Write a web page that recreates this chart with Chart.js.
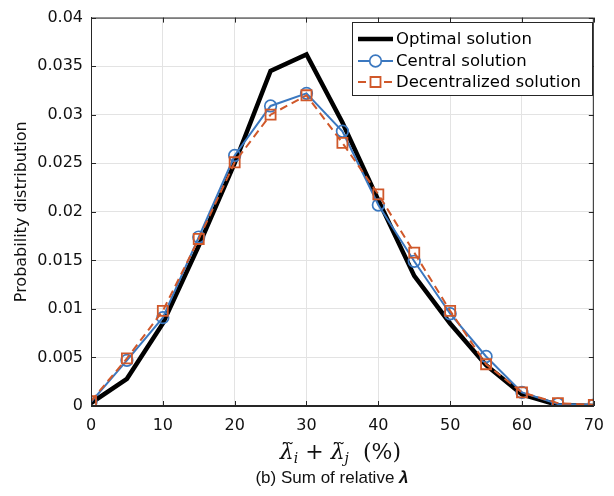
<!DOCTYPE html>
<html>
<head>
<meta charset="utf-8">
<script src="https://cdn.jsdelivr.net/npm/chart.js@4/dist/chart.umd.min.js"></script>
<style>
  html, body { margin: 0; padding: 0; background: #fff; }
  #wrap { position: relative; width: 614px; height: 496px; }
  #caption {
    position: absolute; left: 0; width: 664px; top: 468px; line-height: 20px;
    text-align: center; font: 17px "Liberation Sans", Arial, sans-serif; color: #111;
  }
</style>
</head>
<body>
<div id="wrap">
  <canvas id="chart" width="614" height="496"></canvas>
  <div id="caption">(b) Sum of relative <b><i>λ</i></b></div>
</div>
<script>
const xValues = [0, 5, 10, 15, 20, 25, 30, 35, 40, 45, 50, 55, 60, 65, 70];
const optimal = [0.0003, 0.0028, 0.0085, 0.0165, 0.0250, 0.0345, 0.0362, 0.0292, 0.0212, 0.0134, 0.0085, 0.0042, 0.0012, 0.0001, 0.0000];
const central = [0.0004, 0.0047, 0.0091, 0.0174, 0.0258, 0.0309, 0.0322, 0.0283, 0.0207, 0.0149, 0.0095, 0.0051, 0.0014, 0.0002, 0.0001];
const decentral = [0.0005, 0.0049, 0.0098, 0.0172, 0.0251, 0.0300, 0.0320, 0.0271, 0.0218, 0.0158, 0.0098, 0.0043, 0.0014, 0.0003, 0.0001];
const seriesNames = ['Optimal solution', 'Central solution', 'Decentralized solution'];
const yTickLabels = ['0', '0.005', '0.01', '0.015', '0.02', '0.025', '0.03', '0.035', '0.04'];
const xTickLabels = ['0', '10', '20', '30', '40', '50', '60', '70'];

const AXIS = '#262626';
const GRID = '#e3e3e3';
const BLUE = '#3b78c0';
const ORANGE = '#d0582a';
const FONT = '"DejaVu Sans", sans-serif';

const toPoints = arr => arr.map((v, i) => ({ x: xValues[i], y: v }));

// box, inward ticks, legend and the math x label
const matlabLook = {
  id: 'matlabLook',
  afterDraw(chart) {
    const ctx = chart.ctx;
    const a = chart.chartArea;
    const xs = chart.scales.x, ys = chart.scales.y;
    ctx.save();
    ctx.strokeStyle = AXIS;
    ctx.lineWidth = 1;
    ctx.strokeRect(a.left + 0.5, a.top + 0.5, a.right - a.left - 1, a.bottom - a.top - 1);
    const tl = 5;
    ctx.beginPath();
    xs.ticks.forEach(t => {
      const px = Math.round(xs.getPixelForValue(t.value)) + 0.5;
      ctx.moveTo(px, a.bottom); ctx.lineTo(px, a.bottom - tl);
      ctx.moveTo(px, a.top); ctx.lineTo(px, a.top + tl);
    });
    ys.ticks.forEach(t => {
      const py = Math.round(ys.getPixelForValue(t.value)) + 0.5;
      ctx.moveTo(a.left, py); ctx.lineTo(a.left + tl, py);
      ctx.moveTo(a.right, py); ctx.lineTo(a.right - tl, py);
    });
    ctx.stroke();

    // legend
    const bx = 352.5, by = 22.5, bw = 240, bh = 73;
    ctx.fillStyle = '#fff';
    ctx.fillRect(bx, by, bw, bh);
    ctx.strokeRect(bx, by, bw, bh);
    const rows = [39, 61, 82];
    chart.data.datasets.forEach((ds, i) => {
      const y = rows[i];
      ctx.save();
      ctx.strokeStyle = ds.borderColor;
      ctx.lineWidth = ds.borderWidth;
      ctx.setLineDash(ds.borderDash || []);
      ctx.beginPath();
      ctx.moveTo(358, y); ctx.lineTo(393, y);
      ctx.stroke();
      ctx.setLineDash([]);
      if (ds.pointRadius > 0) {
        ctx.lineWidth = ds.pointBorderWidth;
        ctx.beginPath();
        if (ds.pointStyle === 'rect') {
          ctx.rect(375.5 - 5, y - 5, 10, 10);
        } else {
          ctx.arc(375.5, y, ds.pointRadius, 0, Math.PI * 2);
        }
        ctx.fillStyle = '#fff';
        ctx.fill();
        ctx.stroke();
      }
      ctx.restore();
      ctx.fillStyle = '#000';
      ctx.font = '16.5px ' + FONT;
      ctx.textBaseline = 'middle';
      ctx.fillText(ds.label, 396, y + 1);
    });

    // x axis label: tilde-lambda_i + tilde-lambda_j (%)
    const cx = (a.left + a.right) / 2 - 2;
    const base = 459;
    const big = 'italic 22px "DejaVu Serif", serif';
    const sub = 'italic 14px "DejaVu Serif", serif';
    const rom = '22px "DejaVu Serif", serif';
    const parts = [
      [big, 'λ', 0, true], [sub, 'i', 4], [rom, ' + ', 0],
      [big, 'λ', 0, true], [sub, 'j', 4], [rom, '  (%)', 0]
    ];
    let total = 0;
    parts.forEach(p => { ctx.font = p[0]; total += ctx.measureText(p[1]).width; });
    let px = cx - total / 2;
    ctx.fillStyle = '#111';
    ctx.textBaseline = 'alphabetic';
    parts.forEach(p => {
      ctx.font = p[0];
      const w = ctx.measureText(p[1]).width;
      ctx.fillText(p[1], px, base + p[2]);
      if (p[3]) {
        ctx.font = '18px "DejaVu Serif", serif';
        ctx.textAlign = 'center';
        ctx.fillText('˜', px + w / 2 + 3, base - 3);
        ctx.textAlign = 'left';
      }
      px += w;
    });
    ctx.restore();
  }
};

new Chart(document.getElementById('chart'), {
  type: 'line',
  data: {
    datasets: [
      {
        label: seriesNames[0], data: toPoints(optimal),
        borderColor: '#000', borderWidth: 4.5, pointRadius: 0,
        pointHoverRadius: 0, order: 2
      },
      {
        label: seriesNames[1], data: toPoints(central),
        borderColor: BLUE, borderWidth: 2, pointStyle: 'circle',
        pointRadius: 5.8, pointBorderWidth: 1.7, pointBorderColor: BLUE,
        pointBackgroundColor: 'rgba(0,0,0,0)', order: 1
      },
      {
        label: seriesNames[2], data: toPoints(decentral),
        borderColor: ORANGE, borderWidth: 2, borderDash: [8, 5], pointStyle: 'rect',
        pointRadius: 7.1, pointBorderWidth: 1.8, pointBorderColor: ORANGE,
        pointBackgroundColor: 'rgba(0,0,0,0)', order: 0
      }
    ]
  },
  options: {
    responsive: false,
    animation: false,
    events: [],
    layout: { padding: { left: 0, top: 15, right: 19, bottom: 30 } },
    plugins: { legend: { display: false }, tooltip: { enabled: false } },
    elements: { line: { tension: 0 } },
    scales: {
      x: {
        type: 'linear', min: 0, max: 70,
        afterFit: s => { s.height = 60; },
        afterBuildTicks: s => { s.ticks = xTickLabels.map(v => ({ value: +v })); },
        grid: { color: GRID, drawTicks: false },
        border: { color: AXIS },
        ticks: {
          padding: 10, color: '#111', font: { family: FONT, size: 16 },
          callback: (v, i) => xTickLabels[i], maxRotation: 0
        }
      },
      y: {
        type: 'linear', min: 0, max: 0.04,
        afterFit: s => { s.width = 91; },
        afterBuildTicks: s => { s.ticks = yTickLabels.map(v => ({ value: +v })); },
        grid: { color: GRID, drawTicks: false },
        border: { color: AXIS },
        ticks: {
          padding: 8, color: '#111', font: { family: FONT, size: 16 },
          callback: (v, i) => yTickLabels[i]
        },
        title: {
          display: true, text: 'Probability distribution', color: '#111',
          font: { family: FONT, size: 16 }, padding: { top: 12, bottom: 0 }
        }
      }
    }
  },
  plugins: [matlabLook]
});
</script>
</body>
</html>
